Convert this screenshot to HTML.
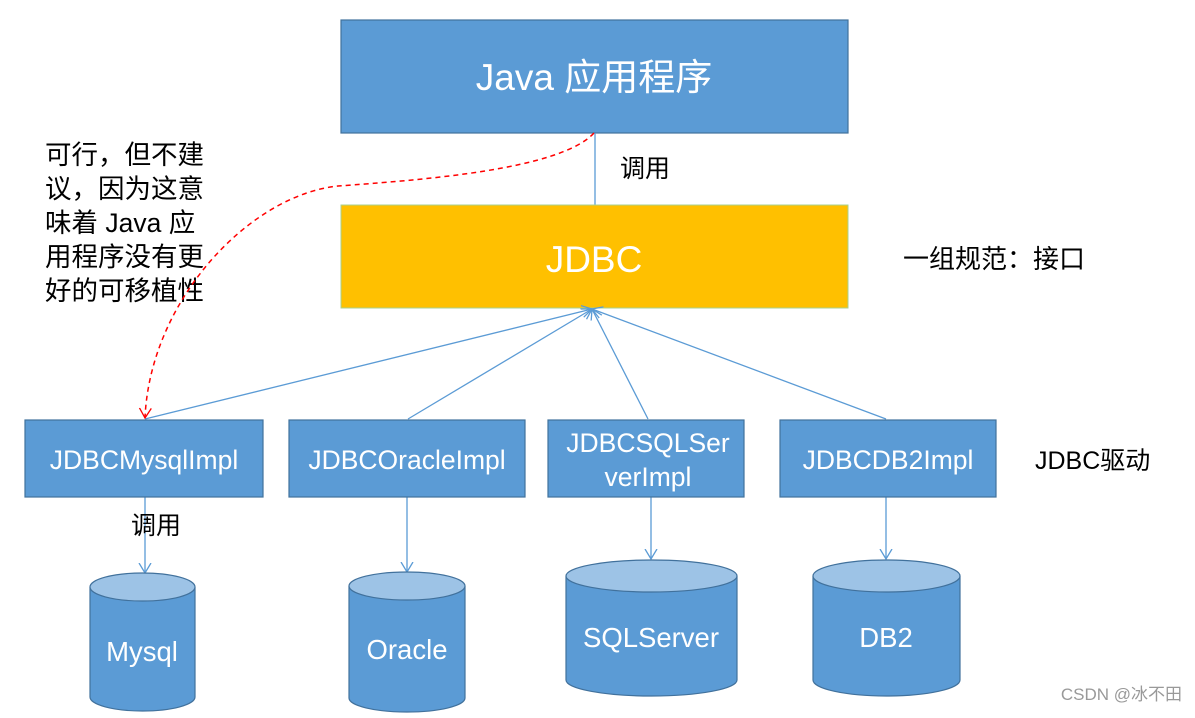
<!DOCTYPE html>
<html><head><meta charset="utf-8"><style>
body{margin:0;background:#fff;}
svg text{font-family:"Liberation Sans","Noto Sans CJK SC",sans-serif;}
</style></head><body>
<svg width="1195" height="713" viewBox="0 0 1195 713" xmlns="http://www.w3.org/2000/svg">
<defs>
<marker id="ab" markerWidth="14" markerHeight="14" refX="10" refY="7" orient="auto" markerUnits="userSpaceOnUse"><path d="M0,1 L10,7 L0,13" fill="none" stroke="#5b9bd5" stroke-width="1.3"/></marker>
<marker id="ar" markerWidth="14" markerHeight="14" refX="10" refY="7" orient="auto" markerUnits="userSpaceOnUse"><path d="M0,1 L10,7 L0,13" fill="none" stroke="#ff0000" stroke-width="1.3"/></marker>
</defs>
<rect x="341" y="20" width="507" height="113" fill="#5b9bd5" stroke="#41719c" stroke-width="1.2"/>
<text x="594" y="90" text-anchor="middle" fill="#fff" font-size="37">Java 应用程序</text>
<line x1="595" y1="133" x2="595" y2="205" stroke="#5b9bd5" stroke-width="1.3"/>
<text x="620" y="177" font-size="25" fill="#000">调用</text>
<rect x="341" y="205" width="507" height="103" fill="#ffc000" stroke="#a9d18e" stroke-width="1"/>
<text x="594" y="272" text-anchor="middle" fill="#fff" font-size="37">JDBC</text>
<text x="903" y="268" font-size="26" fill="#000">一组规范：接口</text>
<g font-size="26.5" fill="#000">
<text x="45" y="164">可行，但不建</text>
<text x="45" y="198">议，因为这意</text>
<text x="45" y="232">味着 Java 应</text>
<text x="45" y="266">用程序没有更</text>
<text x="45" y="300">好的可移植性</text>
</g>
<g stroke="#5b9bd5" stroke-width="1.3" fill="none" marker-end="url(#ab)">
<line x1="145" y1="419" x2="592" y2="309"/>
<line x1="408" y1="419" x2="592" y2="309"/>
<line x1="648" y1="419" x2="592" y2="309"/>
<line x1="886" y1="419" x2="592" y2="309"/>
<line x1="145" y1="497" x2="145" y2="573"/>
<line x1="407" y1="497" x2="407" y2="572"/>
<line x1="651" y1="497" x2="651" y2="559"/>
<line x1="886" y1="497" x2="886" y2="559"/>
</g>
<path d="M594,133 C560,170 420,180 338,186 C250,195 150,300 145,418" fill="none" stroke="#ff0000" stroke-width="1.5" stroke-dasharray="5,4" marker-end="url(#ar)"/>
<g fill="#5b9bd5" stroke="#41719c" stroke-width="1.2">
<rect x="25" y="420" width="238" height="77"/>
<rect x="289" y="420" width="236" height="77"/>
<rect x="548" y="420" width="196" height="77"/>
<rect x="780" y="420" width="216" height="77"/>
</g>
<g fill="#fff" font-size="26.5" text-anchor="middle">
<text x="144" y="469">JDBCMysqlImpl</text>
<text x="407" y="469">JDBCOracleImpl</text>
<text x="648" y="452">JDBCSQLSer</text>
<text x="648" y="486">verImpl</text>
<text x="888" y="469">JDBCDB2Impl</text>
</g>
<text x="1035" y="469" font-size="25" fill="#000">JDBC驱动</text>
<text x="131" y="534" font-size="25" fill="#000">调用</text>
<g stroke="#41719c" stroke-width="1.2">
<path d="M90,587 L90,697 A52.5,14 0 0 0 195,697 L195,587" fill="#5b9bd5"/>
<ellipse cx="142.5" cy="587" rx="52.5" ry="14" fill="#9dc3e6"/>
<path d="M349,586 L349,698 A58,14 0 0 0 465,698 L465,586" fill="#5b9bd5"/>
<ellipse cx="407" cy="586" rx="58" ry="14" fill="#9dc3e6"/>
<path d="M566,576 L566,680 A85.5,16 0 0 0 737,680 L737,576" fill="#5b9bd5"/>
<ellipse cx="651.5" cy="576" rx="85.5" ry="16" fill="#9dc3e6"/>
<path d="M813,576 L813,680 A73.5,16 0 0 0 960,680 L960,576" fill="#5b9bd5"/>
<ellipse cx="886.5" cy="576" rx="73.5" ry="16" fill="#9dc3e6"/>
</g>
<g fill="#fff" font-size="27.5" text-anchor="middle">
<text x="142" y="661">Mysql</text>
<text x="407" y="659">Oracle</text>
<text x="651" y="647">SQLServer</text>
<text x="886" y="647">DB2</text>
</g>
<text x="1182" y="700" text-anchor="end" font-size="17" fill="#999">CSDN @冰不田</text>
</svg>
</body></html>
